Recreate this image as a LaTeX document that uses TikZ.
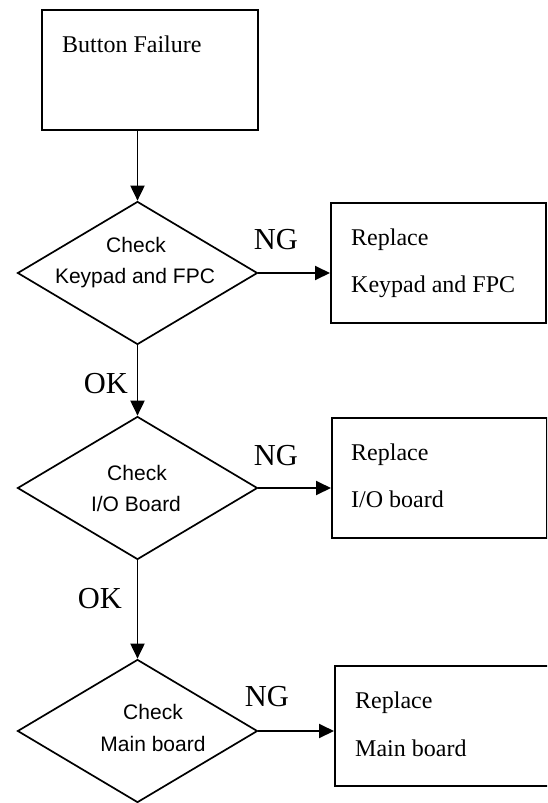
\documentclass[tikz,border=0pt]{standalone}
\usepackage{fontspec}
\setmainfont{Liberation Serif}
\newfontfamily\arialf{Liberation Sans}
\usetikzlibrary{shapes.geometric,arrows.meta}
\begin{document}
\begin{tikzpicture}[x=1pt,y=-1pt,
  box/.style={draw,line width=1.9pt,rectangle,inner sep=0pt,anchor=north west,minimum height=120pt},
  dia/.style={draw,line width=1.7pt,diamond,inner sep=0pt,minimum width=240pt,minimum height=143pt},
  serif/.style={font=\fontsize{24}{28}\selectfont,inner sep=0pt,anchor=base west},
  sans/.style={font=\arialf\fontsize{21}{25}\selectfont,inner sep=0pt,anchor=base},
  tag/.style={font=\fontsize{30.5}{34}\selectfont,inner sep=0pt,anchor=base},
  arr/.style={line width=1.9pt,-{Triangle[length=15pt,width=14pt]}}]
\useasboundingbox (0,0) rectangle (547,803);
\clip (0,0) rectangle (547,803);

% start box
\node[box,minimum width=216pt] (b0) at (41,9) {};
\node[serif] (t0) at (62,52) {Button Failure};

% decisions
\node[dia] (d1) at (137.5,273) {};
\node[dia] (d2) at (137.5,488) {};
\node[dia] (d3) at (137.5,731) {};

\node[sans] (d1a) at (136,252) {Check};
\node[sans] (d1b) at (135,283) {Keypad and FPC};
\node[sans] (d2a) at (137,480) {Check};
\node[sans] (d2b) at (136,511) {I/O Board};
\node[sans] (d3a) at (153,719) {Check};
\node[sans] (d3b) at (153,751) {Main board};

% replace boxes
\node[box,minimum width=215pt] (r1) at (330,202) {};
\node[box,minimum width=215pt] (r2) at (331,417) {};
\node[box,minimum width=240pt] (r3) at (334,665) {};

\node[serif] (r1a) at (351,245) {Replace};
\node[serif] (r1b) at (351,292) {Keypad and FPC};
\node[serif] (r2a) at (351,460) {Replace};
\node[serif] (r2b) at (351,507) {I/O board};
\node[serif] (r3a) at (355,708) {Replace};
\node[serif] (r3b) at (355,756) {Main board};

% labels
\node[tag] (ng1) at (276,249) {NG};
\node[tag] (ng2) at (276,465) {NG};
\node[tag] (ng3) at (267,706) {NG};
\node[tag] (ok1) at (106,393) {OK};
\node[tag] (ok2) at (100,608) {OK};

% connectors
\draw[arr] (b0.south -| d1.north) -- (d1.north);
\draw[arr] (d1.east) -- (d1.east -| r1.west);
\draw[arr] (d1.south) -- (d2.north);
\draw[arr] (d2.east) -- (d2.east -| r2.west);
\draw[arr] (d2.south) -- (d3.north);
\draw[arr] (d3.east) -- (d3.east -| r3.west);
\end{tikzpicture}
\end{document}
